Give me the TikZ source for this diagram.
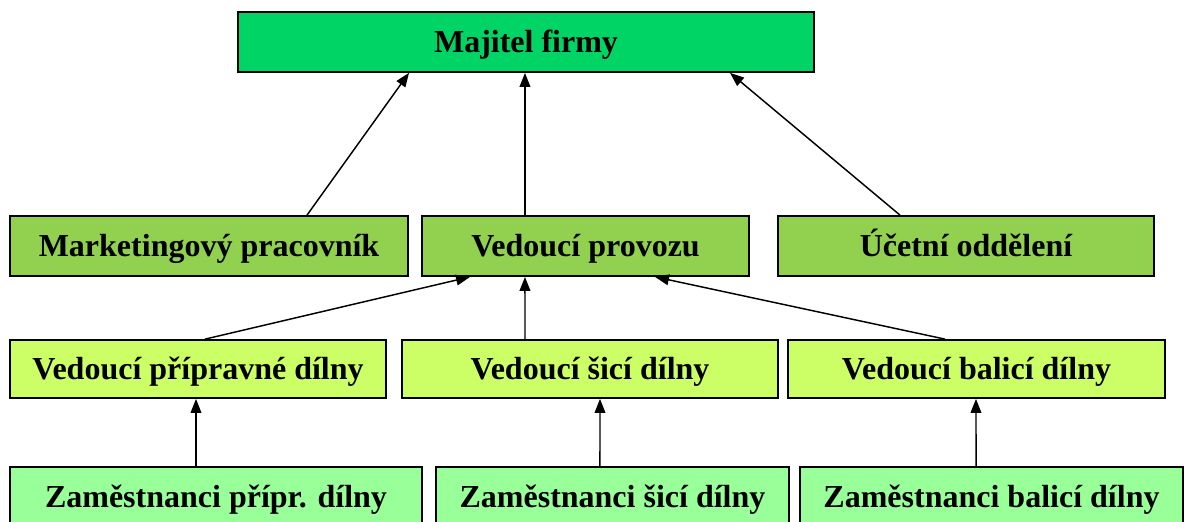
\documentclass[tikz,border=0pt]{standalone}
\usepackage{fontspec}
\setmainfont{Liberation Serif}
\usetikzlibrary{arrows.meta}
\definecolor{ownercol}{RGB}{0,212,100}
\definecolor{headcol}{RGB}{146,208,80}
\definecolor{shopcol}{RGB}{204,255,102}
\definecolor{staffcol}{RGB}{153,255,153}
\begin{document}
\begin{tikzpicture}
    [
    x = 0.75pt, y = -0.75pt,
    box/.style = {rectangle, draw = black, line width = 1.3pt, inner sep = 0pt,
        text height = 15.9pt, text depth = 0pt,
        font = \fontsize{24}{28}\selectfont\bfseries},
    arr/.style = {line width = 1.1pt, -{Triangle[length = 10.5pt, width = 8pt]}},
    ]
    \useasboundingbox (0,0) rectangle (1184,521);
    \clip (0,0) rectangle (1184,521);

    \node[box, fill = ownercol, minimum width = 432pt, minimum height = 45pt] (owner) at (526,42) {Majitel firmy};

    \node[box, fill = headcol, minimum width = 298.5pt, minimum height = 45pt] (mark) at (209,246) {Marketingový pracovník};
    \node[box, fill = headcol, minimum width = 245.25pt, minimum height = 45pt] (prov) at (585.5,246) {Vedoucí provozu};
    \node[box, fill = headcol, minimum width = 282pt, minimum height = 45pt] (acct) at (966,246) {Účetní oddělení};

    \node[box, fill = shopcol, minimum width = 282pt, minimum height = 43.5pt] (prep) at (198,369) {Vedoucí přípravné dílny};
    \node[box, fill = shopcol, minimum width = 282pt, minimum height = 43.5pt] (sew) at (590,369) {Vedoucí šicí dílny};
    \node[box, fill = shopcol, minimum width = 282.75pt, minimum height = 43.5pt] (pack) at (976.5,369) {Vedoucí balicí dílny};

    \node[box, fill = staffcol, minimum width = 309pt, minimum height = 45pt] (prepstaff) at (216,497) {Zaměstnanci přípr. dílny};
    \node[box, fill = staffcol, minimum width = 264.75pt, minimum height = 45pt] (sewstaff) at (612.5,497) {Zaměstnanci šicí dílny};
    \node[box, fill = staffcol, minimum width = 287.25pt, minimum height = 45pt] (packstaff) at (991.5,497) {Zaměstnanci balicí dílny};

    \draw[arr] ([xshift = 73.5pt]mark.north) -- ([xshift = -87.75pt]owner.south);
    \draw[arr] ([xshift = -45.4pt]prov.north) -- ([xshift = -45.4pt]prov.north |- owner.south);
    \draw[arr] ([xshift = -49.5pt]acct.north) -- ([xshift = 153pt]owner.south);

    \draw[arr] ([xshift = 5.25pt]prep.north) -- ([xshift = -86.6pt]prov.south);
    \draw[arr] ([xshift = -48.75pt]sew.north) -- ([xshift = -45.4pt]prov.south);
    \draw[arr] ([xshift = -23.6pt]pack.north) -- ([xshift = 52.1pt]prov.south);

    \draw[arr] ([xshift = -15pt]prepstaff.north) -- ([xshift = -1.5pt]prep.south);
    \draw[arr] ([xshift = -9.4pt]sewstaff.north) -- ([xshift = 7.5pt]sew.south);
    \draw[arr] ([xshift = -11.6pt]packstaff.north) -- ([xshift = -0.4pt]pack.south);
\end{tikzpicture}
\end{document}
